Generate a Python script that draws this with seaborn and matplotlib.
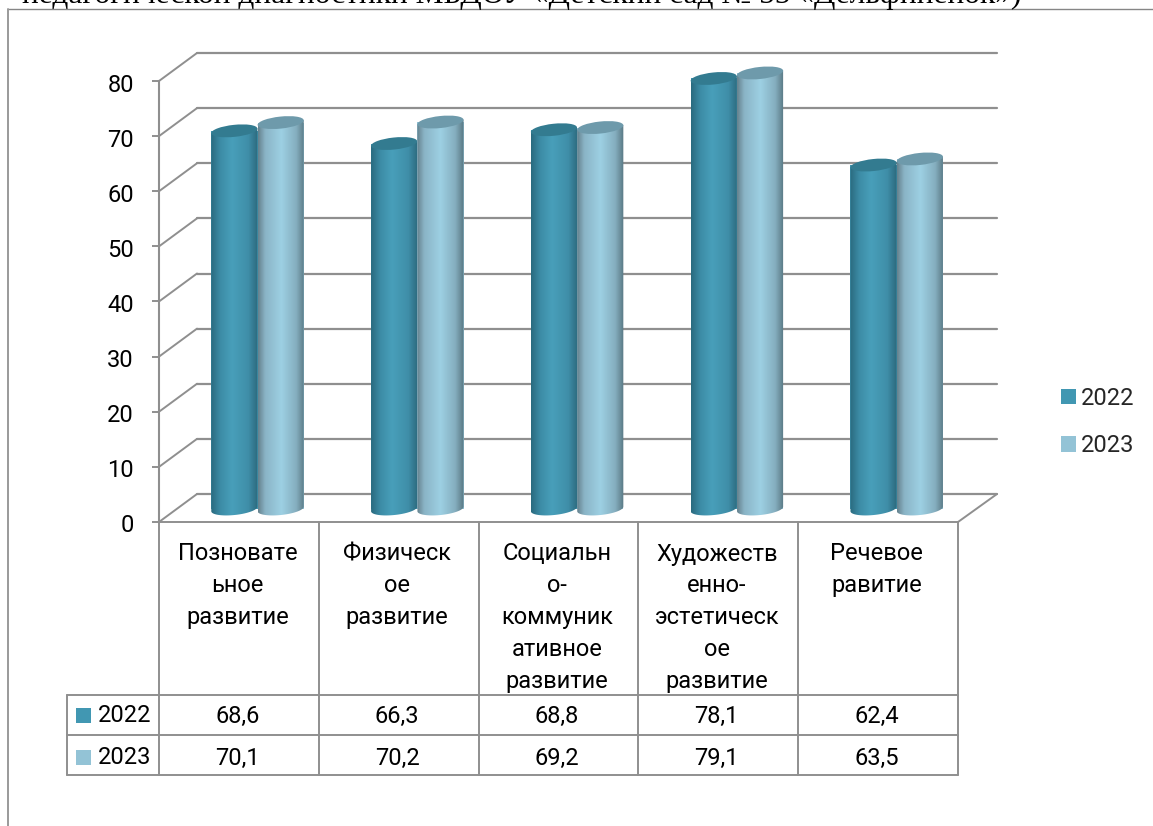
import numpy as np
import pandas as pd
import matplotlib
matplotlib.use("Agg")
import matplotlib.pyplot as plt
import seaborn as sns
from matplotlib.lines import Line2D
from matplotlib.patches import Ellipse, Polygon, Rectangle
from matplotlib.transforms import Affine2D, IdentityTransform, blended_transform_factory

# Chart data
categories = ["Позновательное развитие", "Физическое развитие", "Социально-коммуникативное развитие",
              "Художественно-эстетическое развитие", "Речевое равитие"]
cat_lines = [["Позновате", "ьное", "развитие"],
             ["Физическ", "ое", "развитие"],
             ["Социальн", "о-", "коммуник", "ативное", "развитие"],
             ["Художеств", "енно-", "эстетическ", "ое", "развитие"],
             ["Речевое", "равитие"]]
years = ["2022", "2023"]
values_2022 = [68.6, 66.3, 68.8, 78.1, 62.4]
values_2023 = [70.1, 70.2, 69.2, 79.1, 63.5]
y_ticks = [0, 10, 20, 30, 40, 50, 60, 70, 80]
header = "педагогической диагностики МБДОУ «Детский сад № 55 «Дельфинёнок»)"

W, H = 1153, 826
GRAY = "#8f8f8f"
TXT = 17
colors = {"2022": "#4197b2", "2023": "#93c3d6"}
caps = {"2022": "#337b90", "2023": "#6e9aab"}
stops = {"2022": [(0, "#2a6b80"), (.2, "#3d8ca6"), (.45, "#489fba"), (.8, "#3f8ea8"), (1, "#2c6a7e")],
         "2023": [(0, "#66838f"), (.15, "#8ab4c6"), (.5, "#9dd0e3"), (.82, "#85aebf"), (1, "#5a7985")]}

sns.set_theme(style="white")
plt.rcParams["font.family"] = ["Roboto", "DejaVu Sans"]

fig = plt.figure(figsize=(W / 100, H / 100), dpi=100)


def axes_px(left, right, top, bottom):
    a = fig.add_axes([left / W, 1 - bottom / H, (right - left) / W, (bottom - top) / H])
    a.set_xlim(-0.5, 4.5)
    a.set_ylim(0, 80)
    a.patch.set_alpha(0)
    sns.despine(ax=a, left=True, bottom=True)
    return a


def fy(y):
    return 1 - y / H


# back wall, front axis and bars are three axes with the same scale
wall = axes_px(197, 997, 53, 494)
ax = axes_px(159, 958, 81, 522)
bars_ax = axes_px(177.6, 976.6, 68, 509)

wall.set_xticks([])
wall.set_yticks(y_ticks)
wall.tick_params(left=False, labelleft=False)
wall.grid(axis="y", color=GRAY, lw=1.6, clip_on=False)
for g in wall.get_ygridlines():
    g.set_clip_on(False)

# front axis
ax.set_xticks([])
ax.set_yticks(y_ticks)
ax.tick_params(axis="y", left=True, length=5, width=1.4, color=GRAY, pad=13, labelsize=TXT, labelcolor="black")
ax.spines["left"].set_visible(True)
ax.spines["left"].set_color(GRAY)
ax.spines["left"].set_linewidth(1.5)
for lab in ax.get_yticklabels():
    lab.set_transform(lab.get_transform() + Affine2D().translate(0, -1.5))

# diagonals from front axis to back wall
for v in y_ticks:
    ax.plot([-0.5, -0.5 + 38 / 159.8], [v, v + 28 / 5.5125], color=GRAY, lw=1.4, clip_on=False)
ax.plot([4.5, 4.5 + 39 / 159.8], [0, 28 / 5.5125], color=GRAY, lw=1.4, clip_on=False)

# bars
df = pd.DataFrame({"cat": categories * 2,
                   "year": [years[0]] * 5 + [years[1]] * 5,
                   "value": values_2022 + values_2023})
sns.barplot(data=df, x="cat", y="value", hue="year", palette=colors, width=0.58, gap=0,
            saturation=1, ax=bars_ax, legend=False)
bars_ax.set_xlim(-0.5, 4.5)
bars_ax.set_ylim(0, 80)
bars_ax.set_xlabel("")
bars_ax.set_ylabel("")
bars_ax.set_xticks([])
bars_ax.set_yticks([])

fig.canvas.draw()
tilt = np.deg2rad(6)
semi_b = 6.0
n_cat = len(categories)
bar_list = list(bars_ax.patches)[:2 * n_cat]
year_of = [years[0]] * n_cat + [years[1]] * n_cat
order = sorted(range(len(bar_list)), key=lambda i: bar_list[i].get_x())
for z, i in enumerate(order):
    bar, yr = bar_list[i], year_of[i]
    bar.set_edgecolor("none")
    bar.set_zorder(3 + z)
    (x0, y0) = bars_ax.transData.transform((bar.get_x(), 0))
    (x1, y1) = bars_ax.transData.transform((bar.get_x() + bar.get_width(), bar.get_height()))
    a = (x1 - x0) / 2
    cx = (x0 + x1) / 2
    th = np.linspace(np.pi, 2 * np.pi, 40)
    low_x = cx + a * np.cos(th) * np.cos(tilt) - semi_b * np.sin(th) * np.sin(tilt)
    low_y = y0 + a * np.cos(th) * np.sin(tilt) + semi_b * np.sin(th) * np.cos(tilt)
    outline = np.column_stack([low_x, low_y])
    outline = np.vstack([outline, [cx + a * np.cos(tilt), y1 + a * np.sin(tilt)],
                         [cx - a * np.cos(tilt), y1 - a * np.sin(tilt)]])
    clip = Polygon(outline, closed=True, transform=IdentityTransform())
    pos = [s[0] for s in stops[yr]]
    rgb = np.array([matplotlib.colors.to_rgb(s[1]) for s in stops[yr]])
    t = np.linspace(0, 1, 64)
    grad = np.stack([np.interp(t, pos, rgb[:, c]) for c in range(3)], axis=1)[None, :, :]
    im = bars_ax.imshow(grad, extent=[x0, x1, y0 - 20, y1 + 20], aspect="auto",
                        transform=IdentityTransform(), zorder=3 + z, interpolation="bilinear")
    im.set_clip_path(clip)
    im.set_clip_box(fig.bbox)
    bars_ax.add_patch(Ellipse((cx, y1), 2 * a, 2 * semi_b, angle=np.rad2deg(tilt), facecolor=caps[yr],
                              edgecolor="none", transform=IdentityTransform(), clip_on=False, zorder=3 + z))

# data table under the chart
tr = blended_transform_factory(ax.transData, fig.transFigure)
text_dx = -1.5 / 159.8
for k in range(n_cat + 1):
    fig.add_artist(Line2D([k - 0.5, k - 0.5], [fy(522), fy(775)], color=GRAY, lw=1.4, transform=tr))
for yy in (695, 735, 775):
    fig.add_artist(Line2D([67 / W, 958 / W], [fy(yy), fy(yy)], color=GRAY, lw=1.4))
fig.add_artist(Line2D([159 / W, 958 / W], [fy(522), fy(522)], color=GRAY, lw=1.4))
fig.add_artist(Line2D([67 / W, 67 / W], [fy(695), fy(775)], color=GRAY, lw=1.4))

for k, lines in enumerate(cat_lines):
    for j, line in enumerate(lines):
        fig.text(k + text_dx, fy(554 + j * 31.8), line, transform=tr, ha="center", va="center",
                 fontsize=TXT, color="black")

for row_y, yr, vals in zip((715, 757), years, (values_2022, values_2023)):
    for k, v in enumerate(vals):
        fig.text(k + text_dx, fy(row_y + 1), f"{v:.1f}".replace(".", ","), transform=tr, ha="center", va="center",
                 fontsize=TXT, color="black")
    fig.add_artist(Rectangle((76 / W, fy(row_y + 8)), 15 / W, 15 / H, transform=fig.transFigure,
                             facecolor=colors[yr], edgecolor="none"))
    fig.text(98 / W, fy(row_y + 1), yr, ha="left", va="center", fontsize=TXT, color="black")

# legend on the right
handles = [Rectangle((0, 0), 1, 1, facecolor=colors[yr], edgecolor="none") for yr in years]
fig.legend(handles, years, loc="center left", bbox_to_anchor=(1061 / W, fy(422)), frameon=False, fontsize=TXT,
           handlelength=0.64, handleheight=0.64, handletextpad=0.2, labelspacing=1.05,
           borderpad=0, borderaxespad=0)

# frame of the chart and cut off heading above it
fig.add_artist(Line2D([8 / W, 1], [fy(9), fy(9)], color="#868686", lw=1))
fig.add_artist(Line2D([8 / W, 8 / W], [fy(9), 0], color="#9a9a9a", lw=1.4))
fig.text(22 / W, fy(3), header, ha="left", va="baseline", fontsize=22.6, color="black",
         family="Liberation Serif")

fig.savefig("out.png", dpi=100, facecolor="white")
